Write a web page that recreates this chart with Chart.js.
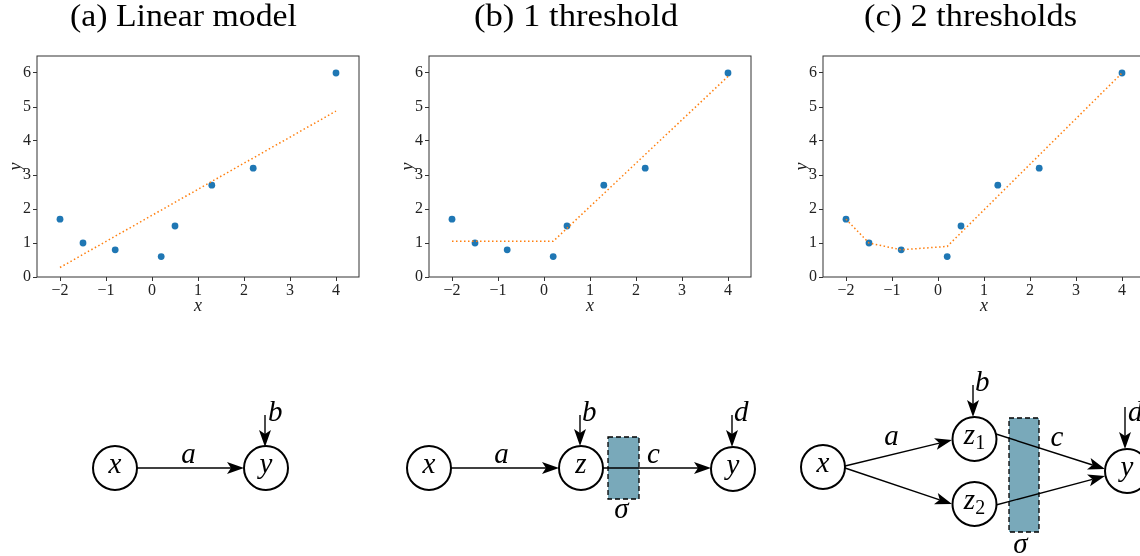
<!DOCTYPE html>
<html>
<head>
<meta charset="utf-8">
<script src="https://cdn.jsdelivr.net/npm/chart.js@4.4.0/dist/chart.umd.min.js"></script>
<style>
  body { margin: 0; background: #fff; width: 1140px; height: 556px; overflow: hidden; position: relative; }
  canvas { position: absolute; top: 40px; }
  #diag { position: absolute; left: 0; top: 0; pointer-events: none; }
</style>
</head>
<body>
<canvas id="c0" width="380" height="280" style="left:0px"></canvas>
<canvas id="c1" width="380" height="280" style="left:392px"></canvas>
<canvas id="c2" width="380" height="280" style="left:786px"></canvas>
<svg id="diag" width="1140" height="556"></svg>

<script>
// observations
const xs = [-2, -1.5, -0.8, 0.2, 0.5, 1.3, 2.2, 4];
const ys = [1.7, 1.0, 0.8, 0.6, 1.5, 2.7, 3.2, 6.0];

// fitted curves for each model
const linFitX = [-2, 4];
const linFitY = [0.28, 4.88];
const oneFitX = [-2, 0.2, 4];
const oneFitY = [1.05, 1.05, 5.9];
const twoFitX = [-2, -1.5, -0.8, 0.2, 4];
const twoFitY = [1.7, 1.0, 0.8, 0.9, 6.0];

const xTicks = [-2, -1, 0, 1, 2, 3, 4];
const yTicks = [0, 1, 2, 3, 4, 5, 6];
const titles = ['(a) Linear model', '(b) 1 threshold', '(c) 2 thresholds'];

const SERIF = "'Liberation Serif', 'DejaVu Serif', serif";
const INK = '#222';
const fmt = v => v < 0 ? '\u2212' + Math.abs(v) : String(v);
const pts = (a, b) => a.map((x, i) => ({ x, y: b[i] }));

// matplotlib-style box around the plot area
const frame = {
  id: 'frame',
  beforeDatasetsDraw(chart) {
    const { ctx, chartArea: a } = chart;
    ctx.save();
    ctx.strokeStyle = '#333';
    ctx.lineWidth = 1;
    ctx.strokeRect(a.left, a.top, a.right - a.left, a.bottom - a.top);
    ctx.restore();
  }
};

function makeChart(id, fx, fy) {
  const tickFont = { family: SERIF, size: 16 };
  const grid = { drawOnChartArea: false, drawTicks: true, tickLength: 4, color: '#333' };
  return new Chart(document.getElementById(id), {
    type: 'scatter',
    data: {
      datasets: [
        { data: pts(fx, fy), showLine: true, borderColor: '#ff7f0e', borderWidth: 1.5,
          borderDash: [1.5, 2.5], pointRadius: 0, order: 0 },
        { data: pts(xs, ys), backgroundColor: '#1f77b4', borderWidth: 0, pointRadius: 3.4, order: 1 }
      ]
    },
    options: {
      responsive: false,
      animation: false,
      layout: { padding: { top: 16, right: 21, left: 0, bottom: 0 } },
      plugins: { legend: { display: false }, tooltip: { enabled: false } },
      scales: {
        x: {
          type: 'linear', min: -2.5, max: 4.5,
          afterBuildTicks: s => { s.ticks = xTicks.map(v => ({ value: v })); },
          afterFit: s => { s.height = 43; },
          grid, border: { display: false },
          ticks: { font: tickFont, color: INK, padding: 0, maxRotation: 0, callback: fmt },
          title: { display: true, text: 'x', color: INK, padding: { top: 0, bottom: 3 },
                   font: { family: SERIF, size: 18, style: 'italic' } }
        },
        y: {
          type: 'linear', min: 0, max: 6.5,
          afterBuildTicks: s => { s.ticks = yTicks.map(v => ({ value: v })); },
          afterFit: s => { s.width = 37; },
          grid, border: { display: false },
          ticks: { font: tickFont, color: INK, padding: 2, callback: fmt },
          title: { display: true, text: 'y', color: INK, padding: { top: 5, bottom: 0 },
                   font: { family: SERIF, size: 18, style: 'italic' } }
        }
      }
    },
    plugins: [frame]
  });
}

makeChart('c0', linFitX, linFitY);
makeChart('c1', oneFitX, oneFitY);
makeChart('c2', twoFitX, twoFitY);

// ---- titles and network diagrams ----
const parts = [];
const R = 22;

function title(cx, str, len) {
  parts.push(`<text x="${cx}" y="26" text-anchor="middle" textLength="${len}" lengthAdjust="spacingAndGlyphs"
    font-family="${SERIF}" font-size="32" fill="#000">${str}</text>`);
}
function node(cx, cy, label, sub) {
  parts.push(`<circle cx="${cx}" cy="${cy}" r="${R}" fill="#fff" stroke="#000" stroke-width="2"/>`);
  const s = sub ? `<tspan font-style="normal" font-size="20" dy="5">${sub}</tspan>` : '';
  parts.push(`<text x="${cx}" y="${cy + 5}" text-anchor="middle" font-family="${SERIF}"
    font-style="italic" font-size="29">${label}${s}</text>`);
}
function label(x, y, str, anchor) {
  parts.push(`<text x="${x}" y="${y}" text-anchor="${anchor || 'middle'}" font-family="${SERIF}"
    font-style="italic" font-size="29">${str}</text>`);
}
function arrow(x1, y1, x2, y2) {
  const L = 17, W = 6, N = 13;
  const dx = x2 - x1, dy = y2 - y1, d = Math.hypot(dx, dy);
  const ux = dx / d, uy = dy / d, nx = -uy, ny = ux;
  const bx = x2 - L * ux, by = y2 - L * uy;
  const mx = x2 - N * ux, my = y2 - N * uy;
  parts.push(`<line x1="${x1}" y1="${y1}" x2="${mx}" y2="${my}" stroke="#000" stroke-width="1.4"/>`);
  parts.push(`<path d="M${x2},${y2} L${bx + W * nx},${by + W * ny} L${mx},${my} L${bx - W * nx},${by - W * ny} Z" fill="#000"/>`);
}
function gate(x, y, w, h) {
  parts.push(`<rect x="${x}" y="${y}" width="${w}" height="${h}" fill="#79a9ba" stroke="#000"
    stroke-width="1.3" stroke-dasharray="5,3"/>`);
}

title(183.5, titles[0], 227);
title(576, titles[1], 204);
title(970.5, titles[2], 213);

// (a) x -> y
arrow(137, 468, 244, 468);
arrow(265, 415, 265, 447);
node(115, 468, 'x');
node(266, 468, 'y');
label(188.5, 463, 'a');
label(268, 421, 'b', 'start');

// (b) x -> z -> y
gate(608, 437, 31, 62);
arrow(451, 468, 559, 468);
arrow(603, 468, 711, 468);
arrow(580, 415, 580, 446);
arrow(732, 415, 732, 447);
node(429, 468, 'x');
node(581, 468, 'z');
node(733, 469, 'y');
label(501.5, 463, 'a');
label(582, 421, 'b', 'start');
label(653.5, 463, 'c');
label(734, 421, 'd', 'start');
label(621.5, 518, '\u03c3');

// (c) x -> z1, z2 -> y
gate(1009, 418, 30, 114);
arrow(845, 466, 952, 440);
arrow(845, 468, 952, 504);
arrow(996, 434, 1105, 469);
arrow(996, 505, 1105, 476);
arrow(973, 385, 973, 417);
arrow(1125, 407, 1125, 449);
node(823, 467, 'x');
node(974.5, 439, 'z', '1');
node(974.5, 504, 'z', '2');
node(1127, 471, 'y');
label(891.5, 445, 'a');
label(1057, 446, 'c');
label(975, 391, 'b', 'start');
label(1128, 421, 'd', 'start');
label(1020.5, 553, '\u03c3');

document.getElementById('diag').innerHTML = parts.join('\n');
</script>
</body>
</html>
